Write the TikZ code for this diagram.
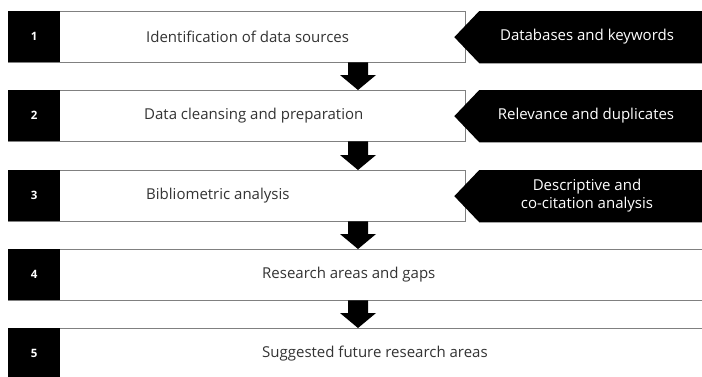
\documentclass[tikz,border=0pt]{standalone}
\usepackage{fontspec}
\setmainfont{Open Sans}
\usetikzlibrary{calc}
\definecolor{boxgray}{HTML}{808080}
\definecolor{textgray}{HTML}{333333}
\begin{document}
\begin{tikzpicture}[x=1pt,y=-1pt,
  stepbox/.style={draw=boxgray, line width=1.3pt, fill=white, anchor=north west, minimum height=51pt, inner sep=0pt},
  numbox/.style={fill=black, text=white, anchor=north west, minimum width=52pt, minimum height=51pt, inner sep=0pt, font=\fontsize{11.5}{13}\selectfont\bfseries},
  steptext/.style={anchor=west, text=textgray, inner sep=0pt, font=\fontsize{15}{17.5}\selectfont},
  sidetext/.style={text=white, inner sep=0pt, align=center, font=\fontsize{15}{17.5}\selectfont},
  flowarrow/.style={fill=black}
]
\useasboundingbox (0,0) rectangle (702,376);
\clip (0,0) rectangle (702,376);
\coordinate (ax) at (358,0);

% step boxes
\node[stepbox, minimum width=457pt] (b1) at (8,11) {};
\node[stepbox, minimum width=457pt] (b2) at (8,90) {};
\node[stepbox, minimum width=457pt] (b3) at (8,170) {};
\node[stepbox, minimum width=720pt] (b4) at (8,249) {};
\node[stepbox, minimum width=720pt] (b5) at (8,328) {};

% number squares
\node[numbox] (n1) at (8,11) {1};
\node[numbox] (n2) at (8,90) {2};
\node[numbox] (n3) at (8,170) {3};
\node[numbox] (n4) at (8,249) {4};
\node[numbox] (n5) at (8,328) {5};

% step texts
\node[steptext] (t1) at (146,36.5) {Identification of data sources};
\node[steptext] (t2) at (144,115.5) {Data cleansing and preparation};
\node[steptext] (t3) at (146,195.5) {Bibliometric analysis};
\node[steptext] (t4) at (262,274.5) {Research areas and gaps};
\node[steptext] (t5) at (262,353.5) {Suggested future research areas};

% side pentagons
\foreach \b in {1,2,3}{
  \fill[black] ($(b\b.east)+(-12,0)$) -- ($(b\b.north east)+(13,0)$) -- ($(b\b.north east)+(260,0)$)
     -- ($(b\b.south east)+(260,0)$) -- ($(b\b.south east)+(13,0)$) -- cycle;
}
\node[sidetext] (s1) at (587,36.5) {Databases and keywords};
\node[sidetext] (s2) at (586,115.5) {Relevance and duplicates};
\node[sidetext] (s3) at (587,195.5) {Descriptive and\\co-citation analysis};

% down arrows
\newcommand\stepArrow[2]{%
  \fill[flowarrow] ($(#1.south -| ax)+(-10,-1)$) -- ($(#2.north -| ax)+(-10,-15)$) -- ($(#2.north -| ax)+(-18,-15)$)
    -- (#2.north -| ax) -- ($(#2.north -| ax)+(18,-15)$) -- ($(#2.north -| ax)+(10,-15)$)
    -- ($(#1.south -| ax)+(10,-1)$) -- cycle;}
\stepArrow{b1}{b2}
\stepArrow{b2}{b3}
\stepArrow{b3}{b4}
\stepArrow{b4}{b5}
\end{tikzpicture}
\end{document}
